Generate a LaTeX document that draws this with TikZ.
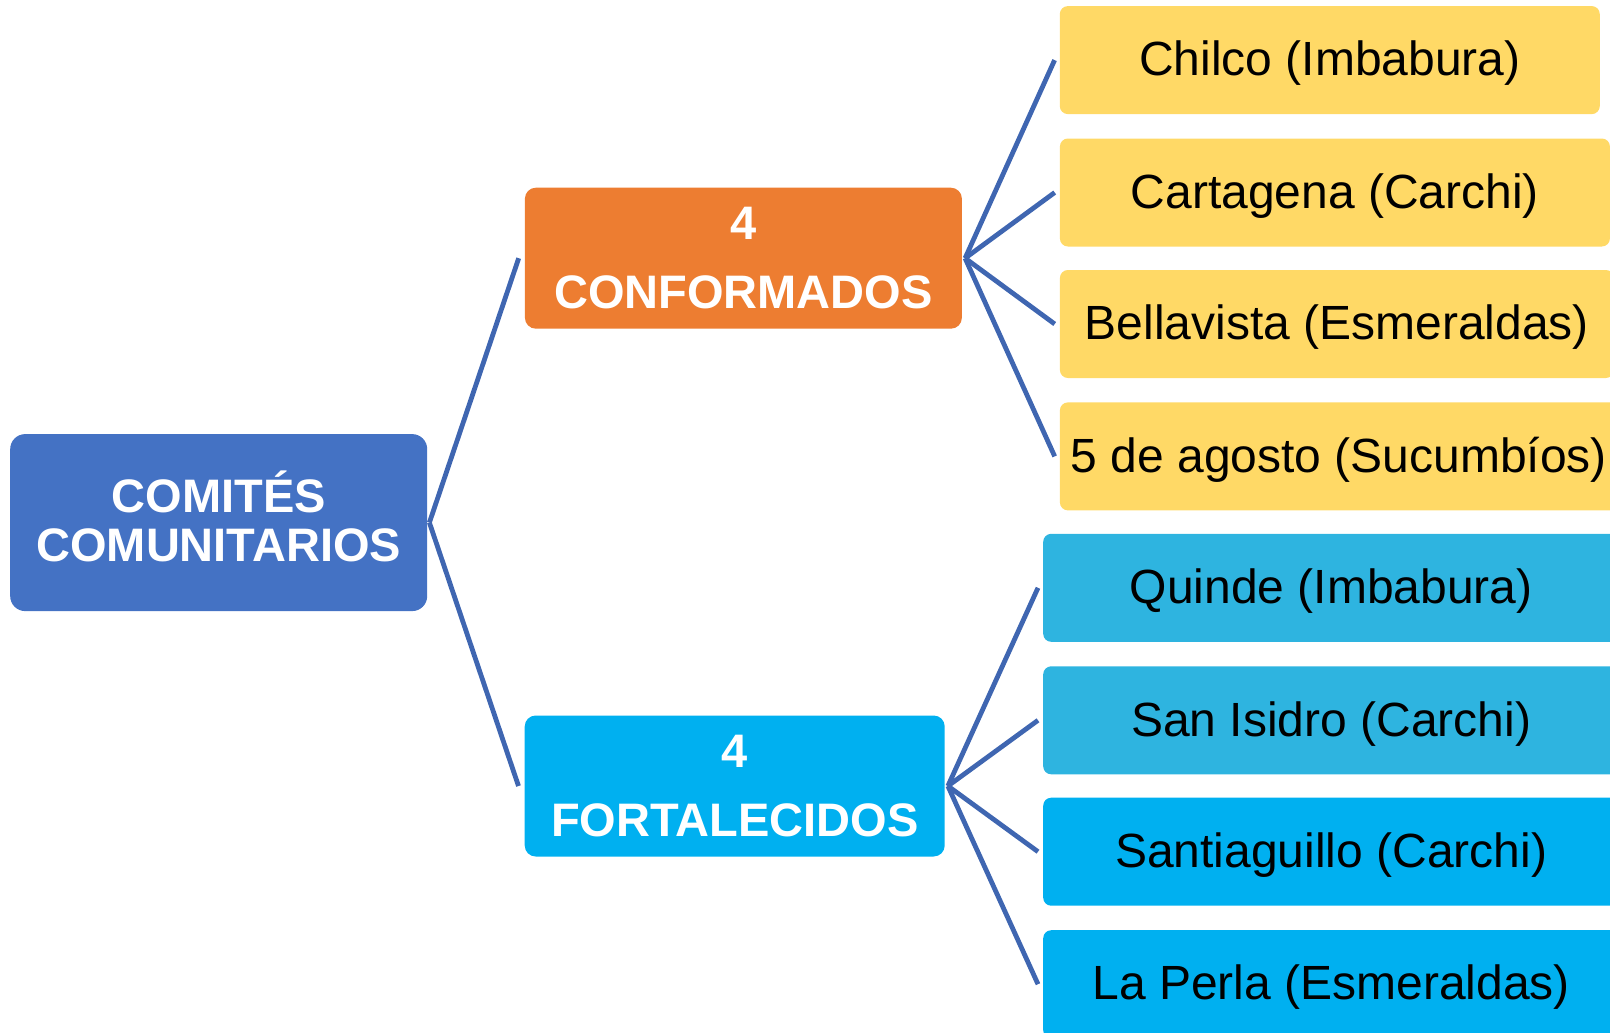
\documentclass[tikz,border=0pt]{standalone}
\usepackage{fontspec}
\setmainfont{Liberation Sans}
\definecolor{rootblue}{HTML}{4472C4}
\definecolor{orangebox}{HTML}{ED7D31}
\definecolor{cyanbox}{HTML}{00B0F0}
\definecolor{cyanlight}{HTML}{2EB4E0}
\definecolor{yellowbox}{HTML}{FFD966}
\definecolor{linkblue}{HTML}{3F66B1}
\begin{document}
\begin{tikzpicture}[x=1pt,y=-1pt,
  leafbox/.style={rectangle, rounded corners=8pt, minimum height=108pt, inner sep=0pt, text height=36pt, text depth=4.5pt, text=black, font=\fontsize{48}{58}\selectfont},
  midbox/.style={rectangle, rounded corners=11pt, minimum height=141pt, inner sep=0pt, align=center, text=white, font=\bfseries\fontsize{47}{69}\selectfont},
  rootbox/.style={rectangle, rounded corners=15pt, minimum height=177pt, minimum width=417pt, inner sep=0pt, fill=rootblue},
  roottext/.style={inner sep=0pt, align=center, text=white, font=\bfseries\fontsize{47}{49}\selectfont},
  conn/.style={draw=linkblue, line width=4.8pt}]
\useasboundingbox (0,0) rectangle (1610,1033);

\node[rootbox] (root) at (218.7,522.6) {};
\node[roottext] (roottxt) at ([yshift=6pt]root.center) {COMITÉS\\COMUNITARIOS};

\node[midbox, fill=orangebox, minimum width=437pt] (conf) at (743.4,258.2) {4\\CONFORMADOS};
\node[midbox, fill=cyanbox, minimum width=420pt] (fort) at (734.7,786) {4\\FORTALECIDOS};

\node[leafbox, fill=yellowbox, minimum width=540pt] (y1) at (1329.8,60.1) {Chilco (Imbabura)};
\node[leafbox, fill=yellowbox, minimum width=550pt] (y2) at (1334.9,192.5) {Cartagena (Carchi)};
\node[leafbox, fill=yellowbox, minimum width=554pt] (y3) at (1336.9,324) {Bellavista (Esmeraldas)};
\node[leafbox, fill=yellowbox, minimum width=558pt] (y4) at (1338.9,456.4) {5 de agosto (Sucumbíos)};

\node[leafbox, fill=cyanlight, minimum width=576pt] (b1) at (1331.2,587.8) {Quinde (Imbabura)};
\node[leafbox, fill=cyanlight, minimum width=576pt] (b2) at (1331.2,720.3) {San Isidro (Carchi)};
\node[leafbox, fill=cyanbox, minimum width=576pt] (b3) at (1331.2,851.7) {Santiaguillo (Carchi)};
\node[leafbox, fill=cyanbox, minimum width=576pt] (b4) at (1331.2,984.2) {La Perla (Esmeraldas)};

\draw[conn] ([xshift=2pt]root.east) -- ([xshift=-6pt]conf.west);
\draw[conn] ([xshift=2pt]root.east) -- ([xshift=-6pt]fort.west);

\foreach \t in {y1,y2,y3,y4}
  \draw[conn] ([xshift=3pt]conf.east) -- ([xshift=-5pt]\t.west);
\foreach \t in {b1,b2,b3,b4}
  \draw[conn] ([xshift=3pt]fort.east) -- ([xshift=-5pt]\t.west);
\end{tikzpicture}
\end{document}
